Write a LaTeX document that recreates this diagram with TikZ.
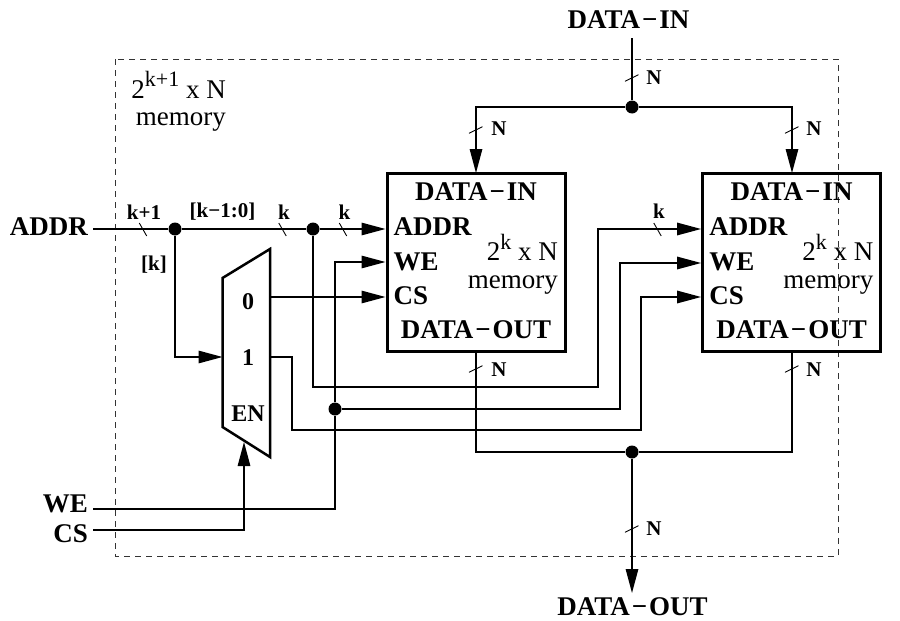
\documentclass[tikz,border=0pt]{standalone}
\usepackage{fontspec}
\setmainfont{Liberation Serif}
\usetikzlibrary{
    arrows.meta,
    calc
}
\tikzstyle{wire} = [
    line width=1.4pt,
    draw=black
]
\tikzstyle{arrow} = [
    wire,
    -{Triangle[length=24pt,width=12.5pt]}
]
\tikzstyle{block} = [
    draw=black,
    line width=3pt,
    minimum width=178pt,
    minimum height=178pt,
    inner sep=0pt
]
\tikzstyle{dot} = [
    circle,
    fill=black,
    inner sep=0pt,
    minimum size=13pt
]
\tikzstyle{tick} = [
    line width=0.9pt,
    draw=black
]
\tikzstyle{port} = [
    font=\fontsize{27}{27}\selectfont\bfseries,
    inner sep=0pt
]
\tikzstyle{muxport} = [
    font=\fontsize{24}{24}\selectfont\bfseries,
    inner sep=0pt
]
\tikzstyle{bus} = [
    font=\fontsize{21}{21}\selectfont\bfseries,
    inner sep=0pt
]
\tikzstyle{caption} = [
    font=\fontsize{27}{27.5}\selectfont,
    inner sep=0pt,
    align=right
]
\newcommand{\capsup}[1]{\raisebox{0.42em}{\fontsize{22}{22}\selectfont #1}}
\newcommand{\dataword}[1]{DATA\kern2pt−\kern2pt #1}

\begin{document}
\begin{tikzpicture}[x=1pt, y=-1pt]
        \useasboundingbox (0,0) rectangle (900,621);

        % Outer dashed frame
        \draw[dash pattern=on 6pt off 5pt, line width=0.8pt, black!80] (115,59) rectangle (838,556);
        \node[caption, anchor=east] (outername) at (226,101.5) {2\capsup{k+1} x N\\memory};

        % Outer ports
        \node[port, anchor=east] (addrport) at (88,227) {ADDR};
        \node[port, anchor=east] (weport) at (88,504) {WE};
        \node[port, anchor=east] (csport) at (88,534) {CS};
        \node[port] (datainport) at (628.5,20) {\dataword{IN}};
        \node[port] (dataoutport) at (632.5,607) {\dataword{OUT}};

        % Memory blocks
        \foreach \m/\x in {a/476, b/791.6} {
            \node[block] (mem\m) at (\x,262) {};
            \node[port] (datain\m) at (\x,192) {\dataword{IN}};
            \node[port] (dataout\m) at (\x,330) {\dataword{OUT}};
            \node[port, anchor=west] (addr\m) at ($(mem\m.west)+(8,-35.5)$) {ADDR};
            \node[port, anchor=west] (we\m) at ($(mem\m.west)+(8,-0.5)$) {WE};
            \node[port, anchor=west] (cs\m) at ($(mem\m.west)+(8,34)$) {CS};
            \node[caption, anchor=east] (name\m) at ($(mem\m.east)+(-8.5,2)$) {2\capsup{k} x N\\memory};
        }

        % Mux
        \coordinate (muxtl) at (222.5,278);
        \coordinate (muxtr) at (270,249);
        \coordinate (muxbr) at (270,457);
        \coordinate (muxbl) at (222.5,427);
        \draw[line width=2.5pt, line join=miter] (muxtl) -- (muxtr) -- (muxbr) -- (muxbl) -- cycle;
        \node[muxport] (mux0) at (248,302) {0};
        \node[muxport] (mux1) at (248,358) {1};
        \node[muxport] (muxen) at (248,414) {EN};

        % Junctions
        \node[dot] (addrsplit) at (175,229) {};
        \node[dot] (addrtap) at (313,229) {};
        \node[dot] (wetap) at (335,409) {};
        \node[dot] (insplit) at (632,107) {};
        \node[dot] (outjoin) at (632,452) {};

        % Address wires
        \draw[arrow] (93,229) -- (addrsplit) -- (addrtap) -- (addrtap -| mema.west);
        \draw[arrow] (addrsplit) |- (muxtl |- 0,357);
        \draw[arrow] (addrtap) |- (598,387) |- (memb.west |- 0,229);

        % Mux outputs
        \draw[arrow] (muxtr |- 0,297) -- (mema.west |- 0,297);
        \draw[arrow] (muxtr |- 0,357) -- (292,357) |- (641,430) |- (memb.west |- 0,297);

        % WE and CS
        \draw[arrow] (93,509) -| (wetap) |- (mema.west |- 0,262);
        \draw[arrow] (wetap) -| (620,340) |- (memb.west |- 0,263);
        \draw[arrow] (93,530) -| (244,442);

        % Data buses
        \draw[wire] (632,38) -- (insplit);
        \draw[arrow] (insplit) -| (476,173);
        \draw[arrow] (insplit) -| (792,173);
        \draw[wire] (476,351) -- (476,452) -- (outjoin) -- (792,452) -- (792,351);
        \draw[arrow] (outjoin) -- (632,593);

        % Bus width ticks
        \foreach \x in {143,282.5,343,657.5} {
            \draw[tick] (\x-3.7,223) -- (\x+3.7,236);
        }
        \foreach \x/\y in {632/78, 476/130, 792/130, 476/369, 792/369, 632/529} {
            \draw[tick] (\x-7,\y+3.3) -- (\x+6.5,\y-3.3);
        }

        % Bus labels
        \node[bus] (wkplus) at (144,212) {k+1};
        \node[bus] (wrange) at (222.5,212) {[k−1:0]};
        \node[bus] (wka) at (284,212) {k};
        \node[bus] (wkb) at (344.5,212) {k};
        \node[bus] (wkc) at (659,211.5) {k};
        \node[bus] (wslice) at (154,265) {[k]};
        \foreach \x/\y/\n in {654/78/a, 499/129/b, 814/129/c, 499/369.5/d, 814/369.5/e, 654/529/f} {
            \node[bus] (wn\n) at (\x,\y) {N};
        }
    \end{tikzpicture}
\end{document}
